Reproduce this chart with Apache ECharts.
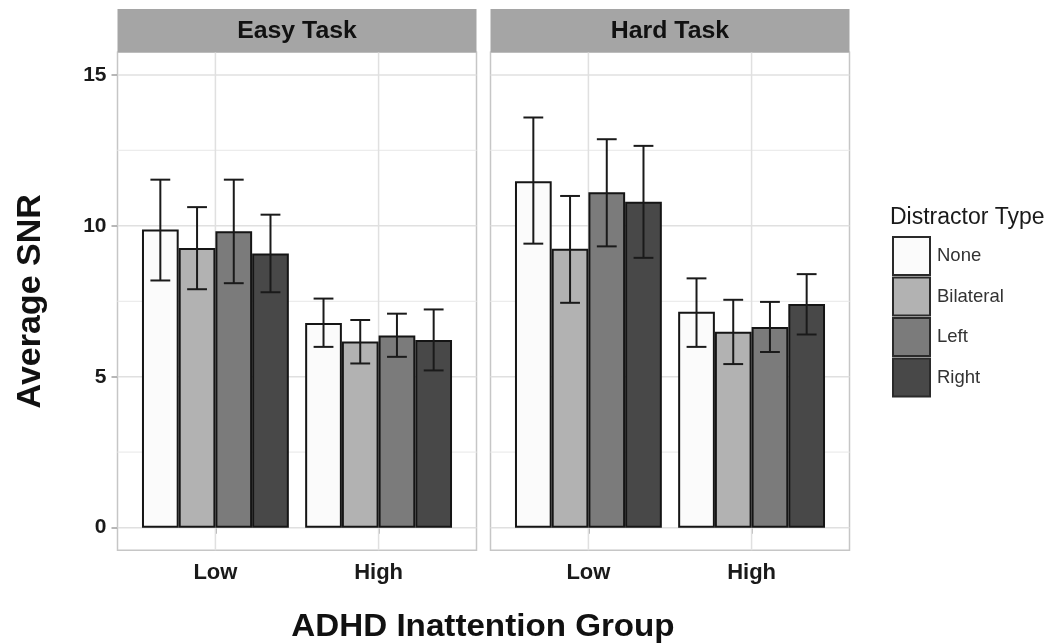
<!DOCTYPE html>
<html><head><meta charset="utf-8">
<script src="https://cdn.jsdelivr.net/npm/echarts@6/dist/echarts.min.js"></script>
<style>html,body{margin:0;padding:0;background:#fff}#c{width:1051px;height:643px}</style>
</head><body><div id="c"></div>
<script>
// ---- data ----
const groups = ['Low', 'High'];
const tasks = ['Easy Task', 'Hard Task'];
const distractors = ['None', 'Bilateral', 'Left', 'Right'];
const yTicks = [0, 5, 10, 15];
const yMajorGrid = [0, 5, 10, 15];
const yMinorGrid = [2.5, 7.5, 12.5];
// rows: distractor (None, Bilateral, Left, Right); cols: group (Low, High)
const easyMean = [[9.88, 6.78], [9.27, 6.17], [9.82, 6.37], [9.08, 6.22]];
const easyLower = [[8.19, 5.99], [7.90, 5.44], [8.10, 5.66], [7.80, 5.21]];
const easyUpper = [[11.53, 7.59], [10.62, 6.88], [11.53, 7.09], [10.37, 7.23]];
const hardMean = [[11.48, 7.15], [9.24, 6.49], [11.11, 6.65], [10.80, 7.41]];
const hardLower = [[9.41, 5.99], [7.45, 5.42], [9.32, 5.82], [8.94, 6.40]];
const hardUpper = [[13.59, 8.26], [10.99, 7.55], [12.87, 7.48], [12.65, 8.40]];

// ---- styles / layout ----
const FONT = '"Liberation Sans", Arial, Helvetica, sans-serif';
const fills = ['#fbfbfb', '#b2b2b2', '#7b7b7b', '#484848'];
const panelLefts = [117.5, 490.5];
const panelW = 359, panelTop = 52.3, panelH = 498;
const yMin = -0.75, yMax = 15.75;
const xMin = 0.4, xMax = 2.6;
const unit = panelW / (xMax - xMin);
const catGap = 0.1; // ggplot dodge width 0.9

const chart = echarts.init(document.getElementById('c'));
const grids = [], xAxes = [], yAxes = [], series = [], graphics = [];

tasks.forEach((task, p) => {
  const L = panelLefts[p];
  grids.push({left: L, top: panelTop, width: panelW, height: panelH, show: true,
    backgroundColor: '#fff', borderColor: '#c6c6c6', borderWidth: 1.5, containLabel: false});
  grids.push({left: L + (1 - xMin - 0.5) * unit, top: panelTop, width: 2 * unit, height: panelH, show: false});
  const og = p * 2, ig = p * 2 + 1;
  xAxes.push({gridIndex: og, type: 'value', min: xMin, max: xMax, show: false});
  xAxes.push({gridIndex: ig, type: 'category', data: groups, boundaryGap: true,
    axisLine: {show: false}, splitLine: {show: false},
    axisTick: {show: true, alignWithLabel: true, length: 6, lineStyle: {color: '#a0a0a0', width: 1.5}},
    axisLabel: {fontSize: 22, fontWeight: 'bold', color: '#1a1a1a', margin: 12, fontFamily: FONT}});
  yAxes.push({gridIndex: og, type: 'value', min: yMin, max: yMax,
    axisLine: {show: false}, splitLine: {show: false},
    axisTick: {show: p === 0, length: 6, customValues: yTicks, lineStyle: {color: '#a0a0a0', width: 1.5}},
    axisLabel: {show: p === 0, customValues: yTicks, fontSize: 21, fontWeight: 'bold', color: '#1a1a1a', margin: 11,
      fontFamily: FONT},
    name: p === 0 ? 'Average SNR' : '', nameLocation: 'middle', nameRotate: 90, nameGap: 70,
    nameTextStyle: {fontSize: 34, fontWeight: 'bold', color: '#111', fontFamily: FONT}});
  yAxes.push({gridIndex: ig, type: 'value', min: yMin, max: yMax, show: false});
  const xo = xAxes.length - 2, xi = xAxes.length - 1, yo = yAxes.length - 2, yi = yAxes.length - 1;

  const mkH = (vals, color, w) => ({type: 'custom', xAxisIndex: xo, yAxisIndex: yo, silent: true, z: 1,
    data: vals.map(v => [1.5, v]),
    renderItem: (params, api) => {
      const a = api.coord([xMin, api.value(1)]), b = api.coord([xMax, api.value(1)]);
      return {type: 'line', shape: {x1: a[0], y1: a[1], x2: b[0], y2: b[1]}, style: {stroke: color, lineWidth: w}};
    }});
  series.push(mkH(yMinorGrid, '#ececec', 1.2));
  series.push(mkH(yMajorGrid, '#e0e0e0', 1.5));
  series.push({type: 'custom', xAxisIndex: xo, yAxisIndex: yo, silent: true, z: 1,
    data: groups.map((g, i) => [i + 1, 0]),
    renderItem: (params, api) => {
      const a = api.coord([api.value(0), yMin]), b = api.coord([api.value(0), yMax]);
      return {type: 'line', shape: {x1: a[0], y1: a[1], x2: b[0], y2: b[1]}, style: {stroke: '#e0e0e0', lineWidth: 1.5}};
    }});

  const means = p === 0 ? easyMean : hardMean;
  const lows = p === 0 ? easyLower : hardLower;
  const highs = p === 0 ? easyUpper : hardUpper;
  distractors.forEach((d, k) => {
    series.push({type: 'bar', name: d, xAxisIndex: xi, yAxisIndex: yi, data: means[k],
      barGap: '0%', barCategoryGap: (catGap * 100) + '%', z: 3,
      itemStyle: {color: fills[k], borderColor: '#151515', borderWidth: 2}});
  });
  const errData = [];
  distractors.forEach((d, k) => groups.forEach((g, gi) => errData.push([gi, k, lows[k][gi], highs[k][gi]])));
  series.push({type: 'custom', xAxisIndex: xi, yAxisIndex: yi, z: 5, silent: true,
    encode: {x: 0, y: [2, 3]}, data: errData,
    renderItem: (params, api) => {
      const gi = api.value(0), k = api.value(1);
      const c = api.coord([gi, 0]);
      const band = api.size([1, 0])[0];
      const bw = band * (1 - catGap) / distractors.length;
      const x = c[0] - band * (1 - catGap) / 2 + (k + 0.5) * bw;
      const y1 = api.coord([gi, api.value(2)])[1];
      const y2 = api.coord([gi, api.value(3)])[1];
      const hw = bw * 0.27;
      const st = {stroke: '#1a1a1a', lineWidth: 2};
      return {type: 'group', children: [
        {type: 'line', shape: {x1: x, y1: y1, x2: x, y2: y2}, style: st},
        {type: 'line', shape: {x1: x - hw, y1: y1, x2: x + hw, y2: y1}, style: st},
        {type: 'line', shape: {x1: x - hw, y1: y2, x2: x + hw, y2: y2}, style: st}]};
    }});

  graphics.push({type: 'rect', left: L, top: 9, shape: {width: panelW, height: 43.3}, style: {fill: '#a5a5a5'}, z: 10});
  graphics.push({type: 'text', x: L + panelW / 2, y: 32, scaleX: 1.08, z: 11,
    style: {text: task, fill: '#111', font: 'bold 23px ' + FONT, align: 'center', verticalAlign: 'middle'}});
});

graphics.push({type: 'text', x: 483, y: 627, scaleX: 1.07, z: 11,
  style: {text: 'ADHD Inattention Group', fill: '#111', font: 'bold 31px ' + FONT, align: 'center', verticalAlign: 'middle'}});
graphics.push({type: 'text', x: 890, y: 218, z: 11,
  style: {text: 'Distractor Type', fill: '#1a1a1a', font: '23px ' + FONT, align: 'left', verticalAlign: 'middle'}});

chart.setOption({
  animation: false,
  grid: grids, xAxis: xAxes, yAxis: yAxes, series: series, graphic: graphics,
  legend: {orient: 'vertical', left: 892, top: 236, itemWidth: 37, itemHeight: 38, itemGap: 0.5, padding: 0,
    data: distractors.map((d, k) => ({name: d, icon: 'rect', itemStyle: {color: fills[k], borderColor: '#2a2a2a', borderWidth: 2}})),
    textStyle: {fontSize: 18.5, color: '#333', fontFamily: FONT, padding: [0, 0, 0, 2]},
    selectedMode: false}
});
</script></body></html>
